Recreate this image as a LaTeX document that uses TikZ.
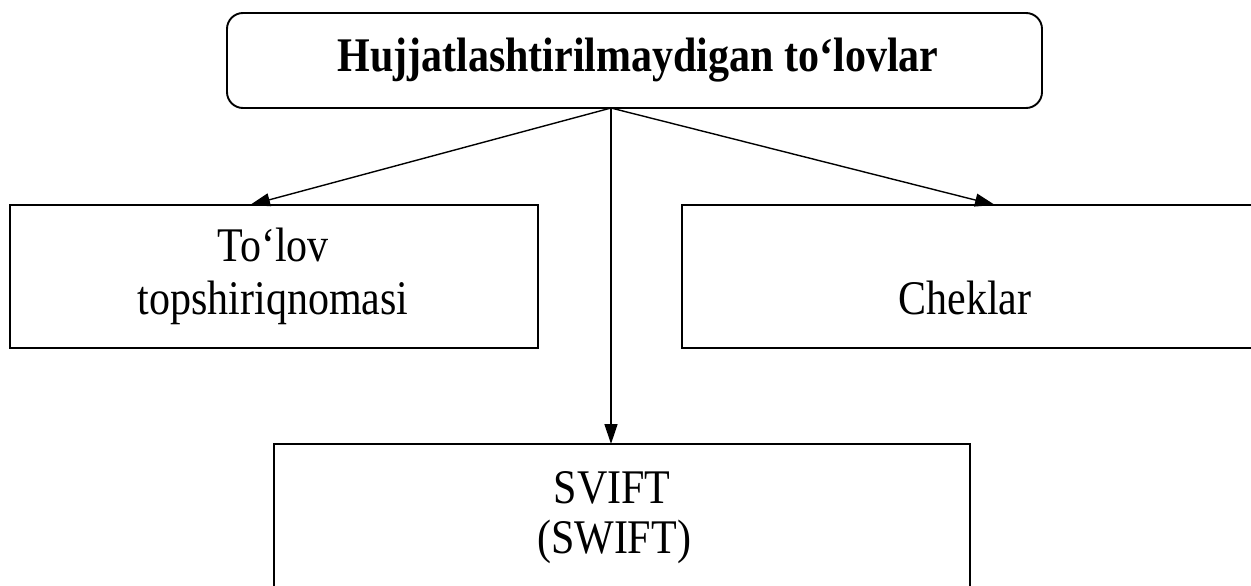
\documentclass[tikz,border=0pt]{standalone}
\usepackage{fontspec}
\usepackage{graphicx}
\setmainfont{Liberation Serif}
\usetikzlibrary{arrows.meta}
\newcommand{\tallt}[1]{\scalebox{1}[1.15]{#1}}
\begin{document}
\begin{tikzpicture}[x=1pt,y=-1pt,
  box/.style={draw=black,line width=1.9pt,inner sep=0pt},
  lbl/.style={inner sep=0pt,anchor=base,font=\fontsize{42}{53}\selectfont},
  conn/.style={line width=1.4pt,-{Triangle[length=20pt,width=13pt]}}]
\useasboundingbox (0,0) rectangle (1251,586);
\fill[white] (0,0) rectangle (1251,586);
% boxes
\node[box,rounded corners=16pt,minimum width=815pt,minimum height=95pt] (top) at (634.5,60.5) {};
\node[box,minimum width=528pt,minimum height=143pt] (left) at (274,276.5) {};
\node[box,minimum width=600pt,minimum height=143pt] (right) at (982,276.5) {};
\node[box,minimum width=696pt,minimum height=220pt] (bottom) at (622,554) {};
% labels
\node[lbl,font=\fontsize{42}{53}\selectfont\bfseries] (tt) at (638,71) {\tallt{Hujjatlashtirilmaydigan to‘lovlar}};
\node[lbl] (l1) at (273,261) {\tallt{To‘lov}};
\node[lbl] (l2) at (273,314) {\tallt{topshiriqnomasi}};
\node[lbl] (r1) at (965,314) {\tallt{Cheklar}};
\node[lbl] (b1) at (612,503) {\tallt{SVIFT}};
\node[lbl] (b2) at (614,553) {\tallt{(SWIFT)}};
% connectors
\coordinate (o) at (611,108);
\coordinate (lt) at (250,205);
\coordinate (rt) at (995,205);
\coordinate (bt) at (611,444);
\draw[conn] (o) -- (lt);
\draw[conn] (o) -- (rt);
\draw[conn] (o) -- (bt);
\end{tikzpicture}
\end{document}
